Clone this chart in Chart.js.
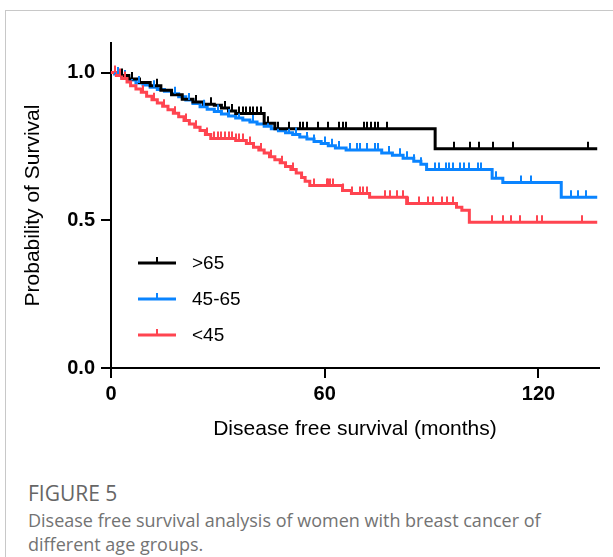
<!DOCTYPE html>
<html>
<head>
<meta charset="utf-8">
<script src="https://cdn.jsdelivr.net/npm/chart.js@4.4.0/dist/chart.umd.min.js"></script>
<style>
    body { margin: 0; background: #fff; }
    #frame { position: absolute; left: 5px; top: 10px; width: 640px; height: 600px; border-top: 1px solid #c8c8c8; border-left: 1px solid #c8c8c8; }
    #box { position: absolute; left: 0; top: 0; width: 613px; height: 460px; }
    .fig { position: absolute; left: 28px; top: 481px; font-family: "Open Sans"; font-size: 21px; line-height: 24px; color: #666; }
    .cap { position: absolute; left: 28px; top: 508px; font-family: "Open Sans"; font-size: 18px; line-height: 24px; color: #737373; white-space: nowrap; }
</style>
</head>
<body>
<div id="frame"></div>
<div id="box"><canvas id="km"></canvas></div>
<div class="fig">FIGURE 5</div>
<div class="cap">Disease free survival analysis of women with breast cancer of<br>different age groups.</div>
<script>
const groups = ['>65', '45-65', '<45'];
const colors = ['#000000', '#0a84ff', '#ff4450'];

// >65
const timeOld = [0, 2, 5, 8, 11, 14, 17, 20, 23, 26, 29, 31, 33, 35, 43, 46, 91, 136.5];
const survOld = [1.0, 0.99, 0.978, 0.966, 0.955, 0.94, 0.925, 0.91, 0.9, 0.893, 0.889, 0.88, 0.87, 0.861, 0.828, 0.81, 0.742, 0.742];
const censorOld = [3, 6, 13, 24, 28, 32, 34, 36, 37, 38, 39, 40, 41, 42, 44, 47, 50, 53, 54, 55, 58, 61, 64, 65, 66, 71, 72, 73, 74, 75, 77.4, 96.4, 100.8, 103.2, 107.2, 112.8, 133.8];

// 45-65
const timeMid = [0, 1, 3, 5, 7, 9, 11, 13, 15, 17, 19, 21, 23, 25, 27, 29, 31, 33, 35, 37, 39, 41, 43, 45, 47, 49, 51, 53, 55, 57, 59, 61, 63, 66, 76, 79, 82, 85, 87, 88.6, 107, 110, 126.4, 136.5];
const survMid = [1.0, 0.995, 0.985, 0.975, 0.965, 0.958, 0.95, 0.943, 0.937, 0.928, 0.918, 0.907, 0.895, 0.884, 0.876, 0.868, 0.86, 0.853, 0.846, 0.839, 0.833, 0.826, 0.818, 0.81, 0.803, 0.796, 0.79, 0.782, 0.775, 0.767, 0.76, 0.752, 0.745, 0.738, 0.728, 0.72, 0.71, 0.7, 0.69, 0.672, 0.642, 0.628, 0.578, 0.578];
const censorMid = [1, 2, 4, 6, 8, 12, 18, 22, 26, 30, 33, 36, 40, 44, 47, 50, 52, 55, 57, 60, 62, 64, 67, 69, 70, 72, 74, 75, 78, 81, 83, 85, 87, 91, 92, 94, 95, 96, 98, 99, 100.6, 103, 104, 108, 115.2, 118, 129.2, 131, 133.4];

// <45
const timeYoung = [0, 1.5, 3, 4.5, 5.5, 7, 8.5, 10, 11.5, 13, 14.5, 16, 17.5, 19, 20.5, 22, 23.5, 25, 26.5, 28, 35, 38, 40, 41.5, 43, 44.5, 46, 47.5, 49, 50.5, 52, 53.5, 54.5, 55.8, 65, 67.5, 72.6, 83, 97, 98.5, 100.6, 136.5];
const survYoung = [1.0, 0.99, 0.98, 0.968, 0.955, 0.944, 0.933, 0.92, 0.908, 0.897, 0.886, 0.874, 0.862, 0.85, 0.838, 0.826, 0.815, 0.804, 0.79, 0.777, 0.77, 0.76, 0.747, 0.738, 0.728, 0.715, 0.705, 0.695, 0.682, 0.672, 0.66, 0.645, 0.632, 0.618, 0.601, 0.591, 0.578, 0.557, 0.544, 0.534, 0.493, 0.493];
const censorYoung = [1, 2.5, 4, 9, 12, 15, 18, 21, 24, 27, 29, 30, 31, 32, 33, 34, 35, 36, 37, 39, 42, 45, 48, 51, 57, 60.5, 61, 61.6, 62.2, 65, 67.6, 70, 70.7, 71.8, 76.8, 78.2, 80.2, 81.9, 83.3, 86.6, 88.9, 90.3, 93, 94.2, 95.9, 107, 110, 112.4, 114.7, 119.7, 121, 132.3];

const xTicks = [0, 60, 120];
const yTicks = [0, 0.5, 1.0];

const times = [timeOld, timeMid, timeYoung];
const survs = [survOld, survMid, survYoung];
const censors = [censorOld, censorMid, censorYoung];

function survAt(t, s, x) {
    let v = s[0];
    for (let i = 0; i < t.length; i++) {
        if (t[i] <= x) v = s[i];
    }
    return v;
}

const datasets = groups.map((g, i) => ({
    label: g,
    data: times[i].map((t, k) => ({ x: t, y: survs[i][k] })),
    borderColor: colors[i],
    borderWidth: 3,
    stepped: 'before',
    pointRadius: 0,
    fill: false,
    order: i === 2 ? 0 : (i === 0 ? 1 : 2)
}));

// little upward ticks for censored cases
const censorPlugin = {
    id: 'censor',
    afterDatasetsDraw(chart) {
        const ctx = chart.ctx;
        const xs = chart.scales.x, ys = chart.scales.y;
        ctx.save();
        ctx.lineWidth = 2;
        [1, 0, 2].forEach(i => {
            ctx.strokeStyle = colors[i];
            censors[i].forEach(c => {
                const px = Math.round(xs.getPixelForValue(c));
                const py = ys.getPixelForValue(survAt(times[i], survs[i], c));
                ctx.beginPath();
                ctx.moveTo(px, py);
                ctx.lineTo(px, py - 7);
                ctx.stroke();
            });
        });
        ctx.restore();
    }
};

// legend inside the plot, lower left
const legendPlugin = {
    id: 'kmLegend',
    afterDraw(chart) {
        const ctx = chart.ctx;
        const area = chart.chartArea;
        ctx.save();
        ctx.font = '19px "Liberation Sans", Arial, sans-serif';
        ctx.textBaseline = 'middle';
        groups.forEach((g, i) => {
            const y = area.top + 220 + i * 36;
            const x0 = area.left + 27;
            ctx.strokeStyle = colors[i];
            ctx.lineWidth = 3;
            ctx.beginPath();
            ctx.moveTo(x0, y);
            ctx.lineTo(x0 + 38, y);
            ctx.stroke();
            ctx.lineWidth = 2;
            ctx.beginPath();
            ctx.moveTo(x0 + 19, y);
            ctx.lineTo(x0 + 19, y - 6);
            ctx.stroke();
            ctx.fillStyle = '#000';
            ctx.fillText(g, area.left + 81, y + 1);
        });
        ctx.restore();
    }
};

const config = {
    type: 'line',
    data: { datasets: datasets },
    options: {
        responsive: true,
        maintainAspectRatio: false,
        animation: false,
        layout: { padding: { top: 43, right: 14, left: 0, bottom: 0 } },
        scales: {
            x: {
                type: 'linear',
                min: 0,
                max: 137,
                afterFit: function(scale) { scale.height = 92; },
                afterBuildTicks: function(scale) { scale.ticks = xTicks.map(v => ({ value: v })); },
                border: { display: true, color: '#000', width: 2 },
                grid: { display: true, drawOnChartArea: false, drawTicks: true, tickLength: 10, color: '#000', lineWidth: 2 },
                ticks: {
                    color: '#000',
                    padding: 4,
                    font: { family: '"Liberation Sans", Arial, sans-serif', size: 20, weight: 'bold' }
                },
                title: {
                    display: true,
                    text: 'Disease free survival (months)',
                    color: '#000',
                    padding: { top: 0, bottom: 18 },
                    font: { family: '"Liberation Sans", Arial, sans-serif', size: 21 }
                }
            },
            y: {
                type: 'linear',
                min: 0,
                max: 1.1,
                afterFit: function(scale) { scale.width = 111; },
                afterBuildTicks: function(scale) { scale.ticks = yTicks.map(v => ({ value: v })); },
                border: { display: true, color: '#000', width: 2 },
                grid: { display: true, drawOnChartArea: false, drawTicks: true, tickLength: 10, color: '#000', lineWidth: 2 },
                ticks: {
                    color: '#000',
                    padding: 6,
                    callback: function(v) { return v.toFixed(1); },
                    font: { family: '"Liberation Sans", Arial, sans-serif', size: 20, weight: 'bold' }
                },
                title: {
                    display: true,
                    text: 'Probability of Survival',
                    color: '#000',
                    padding: { top: 21, bottom: 0 },
                    font: { family: '"Liberation Sans", Arial, sans-serif', size: 21 }
                }
            }
        },
        plugins: {
            legend: { display: false },
            tooltip: { enabled: false }
        }
    },
    plugins: [censorPlugin, legendPlugin]
};

const ctx = document.getElementById('km').getContext('2d');
const chart = new Chart(ctx, config);
</script>
</body>
</html>
